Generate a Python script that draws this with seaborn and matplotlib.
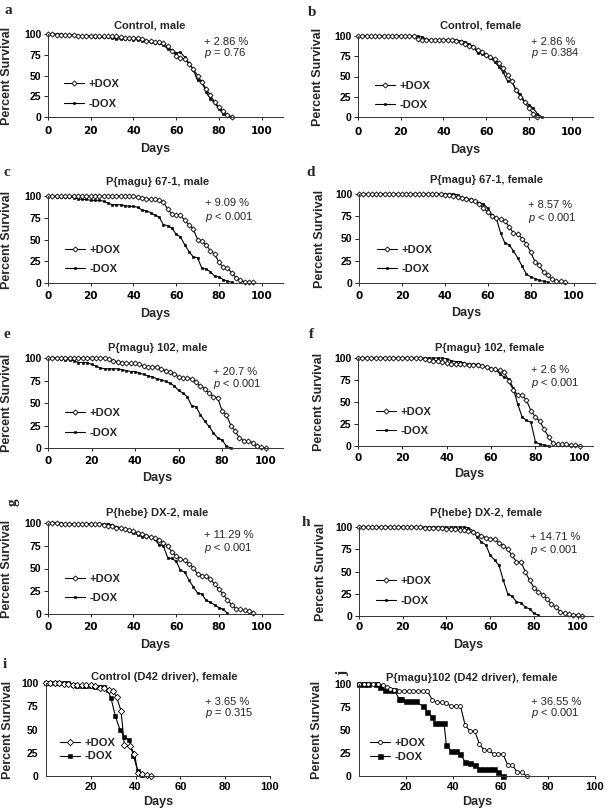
import matplotlib
matplotlib.use("Agg")
import matplotlib.pyplot as plt
import seaborn as sns

# ---------------- data (days, percent survival) ----------------
A_DAYS = [0, 2, 4, 6, 8, 10, 12, 14, 16, 18, 20, 22, 24, 26, 28, 30, 32, 34, 36, 38, 40, 42,
          44, 46, 48, 50, 52, 54, 56, 58, 60, 62, 64, 66, 68, 70, 72, 74, 76, 78, 80, 82, 84, 86]
A_PLUS = [100, 100, 99, 99, 99, 99, 99, 98, 98, 98, 98, 98, 97, 97, 97, 97, 97, 96, 95, 95, 95, 95,
          94, 92, 91, 90, 90, 89, 85, 80, 74, 71, 70, 64, 58, 50, 42, 34, 26, 18, 12, 7, 3, 0]
A_MINUS = [100, 100, 100, 100, 99, 99, 99, 98, 98, 98, 97, 96, 96, 96, 96, 95, 94, 94, 94, 94, 93, 93,
           92, 91, 90, 89, 89, 87, 82, 81, 77, 78, 72, 65, 57, 44, 43, 30, 22, 17, 10, 4, 1, 0]

B_PLUS_DAYS = [0, 2, 4, 6, 8, 10, 12, 14, 16, 18, 20, 22, 24, 26, 28, 30, 32, 34, 36, 38, 40, 42,
               44, 46, 48, 50, 52, 54, 56, 58, 60, 62, 64, 66, 68, 70, 72, 74, 76, 78, 80, 82, 84]
B_PLUS = [100, 100, 100, 100, 100, 100, 100, 100, 100, 100, 100, 100, 100, 100, 96, 95, 95, 95, 95, 95, 95, 95,
          95, 94, 92, 90, 88, 86, 83, 80, 77, 74, 71, 67, 60, 52, 44, 33, 25, 18, 11, 4, 0]
B_MINUS_DAYS = [0, 2, 4, 6, 8, 10, 12, 14, 16, 18, 20, 22, 24, 26, 28, 30, 32, 34, 36, 38, 40, 42,
                44, 46, 48, 50, 52, 54, 56, 58, 60, 62, 64, 66, 68, 70, 72, 74, 76, 78, 80, 82, 84, 86]
B_MINUS = [100, 100, 100, 100, 100, 100, 100, 100, 100, 100, 100, 100, 100, 100, 100, 99, 96, 95, 95, 95, 95, 95,
           95, 95, 94, 93, 90, 87, 79, 78, 76, 73, 68, 62, 55, 44, 44, 33, 28, 19, 15, 11, 4, 0]

C_PLUS_DAYS = [0, 2, 4, 6, 8, 10, 12, 14, 16, 18, 20, 22, 24, 26, 28, 30, 32, 34, 36, 38, 40, 42, 44, 46,
               48, 50, 52, 54, 56, 58, 60, 62, 64, 66, 68, 70, 72, 74, 76, 78, 80, 82, 84, 86, 88, 90, 92, 94, 96]
C_PLUS = [100, 100, 100, 100, 100, 100, 100, 100, 100, 100, 100, 100, 100, 100, 100, 100, 100, 100, 100, 100, 100, 99, 98, 97,
          96, 96, 95, 93, 85, 79, 78, 78, 72, 67, 62, 50, 48, 44, 37, 33, 24, 18, 17, 12, 6, 3, 1, 1, 1]
C_MINUS_DAYS = [0, 2, 4, 6, 8, 10, 12, 14, 16, 18, 20, 22, 24, 26, 28, 30, 32, 34, 36, 38, 40, 42,
                44, 46, 48, 50, 52, 54, 56, 58, 60, 62, 64, 66, 68, 70, 72, 74, 76, 78, 80, 82, 84, 86]
C_MINUS = [100, 100, 99, 99, 99, 99, 98, 97, 96, 96, 95, 95, 95, 94, 92, 90, 90, 90, 89, 88, 88, 87,
           84, 83, 81, 78, 76, 67, 66, 63, 56, 53, 44, 36, 30, 29, 17, 16, 13, 8, 7, 4, 2, 1]

D_PLUS_DAYS = [0, 2, 4, 6, 8, 10, 12, 14, 16, 18, 20, 22, 24, 26, 28, 30, 32, 34, 36, 38, 40, 42, 44, 46,
               48, 50, 52, 54, 56, 58, 60, 62, 64, 66, 68, 70, 72, 74, 76, 78, 80, 82, 84, 86, 88, 90, 92, 94, 96]
D_PLUS = [100, 100, 100, 100, 100, 100, 100, 100, 100, 100, 100, 100, 100, 100, 100, 100, 100, 100, 100, 100, 99, 99, 98, 97,
          96, 94, 93, 92, 89, 84, 80, 75, 73, 72, 70, 63, 56, 55, 50, 44, 35, 24, 20, 12, 9, 4, 2, 2, 1]
D_MINUS_DAYS = [0, 2, 4, 6, 8, 10, 12, 14, 16, 18, 20, 22, 24, 26, 28, 30, 32, 34, 36, 38, 40, 42,
                44, 46, 48, 50, 52, 54, 56, 58, 60, 62, 64, 66, 68, 70, 72, 74, 76, 78, 80, 82, 84, 86, 88]
D_MINUS = [100, 100, 100, 100, 100, 100, 100, 100, 100, 100, 100, 100, 100, 100, 100, 100, 100, 100, 100, 100, 100, 100,
           100, 99, 96, 95, 94, 92, 90, 89, 84, 76, 73, 56, 45, 43, 36, 28, 19, 10, 7, 5, 3, 2, 1]

E_PLUS_DAYS = [0, 2, 4, 6, 8, 10, 12, 14, 16, 18, 20, 22, 24, 26, 28, 30, 32, 34, 36, 38, 40, 42, 44, 46, 48,
               50, 52, 54, 56, 58, 60, 62, 64, 66, 68, 70, 72, 74, 76, 78, 80, 82, 84, 86, 88, 90, 92, 94, 96, 98, 100]
E_PLUS = [100, 100, 100, 100, 100, 100, 100, 100, 100, 100, 100, 100, 100, 100, 99, 97, 96, 95, 94, 94, 94, 93, 91, 90, 90,
          90, 88, 86, 84, 82, 79, 78, 78, 77, 73, 69, 66, 61, 57, 56, 41, 37, 25, 19, 11, 8, 8, 6, 2, 1, 0]
E_MINUS_DAYS = [0, 2, 4, 6, 8, 10, 12, 14, 16, 18, 20, 22, 24, 26, 28, 30, 32, 34, 36, 38, 40, 42,
                44, 46, 48, 50, 52, 54, 56, 58, 60, 62, 64, 66, 68, 70, 72, 74, 76, 78, 80, 82, 84]
E_MINUS = [100, 100, 100, 99, 98, 98, 97, 95, 95, 95, 93, 91, 89, 88, 88, 88, 88, 87, 86, 85, 85, 83,
           82, 80, 79, 77, 76, 74, 72, 69, 64, 61, 57, 47, 46, 37, 30, 24, 17, 11, 9, 2, 0]

F_PLUS_DAYS = [0, 2, 4, 6, 8, 10, 12, 14, 16, 18, 20, 22, 24, 26, 28, 30, 32, 34, 36, 38, 40, 42, 44, 46, 48,
               50, 52, 54, 56, 58, 60, 62, 64, 66, 68, 70, 72, 74, 76, 78, 80, 82, 84, 86, 88, 90, 92, 94, 96, 98, 100]
F_PLUS = [100, 100, 100, 100, 100, 100, 100, 100, 100, 100, 100, 100, 100, 100, 100, 99, 98, 97, 97, 96, 94, 93, 93, 93, 93,
          92, 92, 92, 91, 90, 88, 87, 86, 84, 74, 64, 58, 58, 52, 40, 33, 28, 19, 10, 3, 2, 2, 2, 1, 1, 0]
F_MINUS_DAYS = [0, 2, 4, 6, 8, 10, 12, 14, 16, 18, 20, 22, 24, 26, 28, 30, 32, 34, 36, 38, 40, 42,
                44, 46, 48, 50, 52, 54, 56, 58, 60, 62, 64, 66, 68, 70, 72, 74, 76, 78, 80, 82, 84, 86]
F_MINUS = [100, 100, 100, 100, 100, 100, 100, 100, 100, 100, 100, 100, 100, 100, 100, 100, 100, 100, 100, 100, 99, 97,
           96, 96, 94, 93, 93, 93, 91, 90, 88, 87, 82, 78, 76, 66, 48, 33, 29, 27, 5, 2, 1, 0]

G_PLUS_DAYS = [0, 2, 4, 6, 8, 10, 12, 14, 16, 18, 20, 22, 24, 26, 28, 30, 32, 34, 36, 38, 40, 42, 44, 46,
               48, 50, 52, 54, 56, 58, 60, 62, 64, 66, 68, 70, 72, 74, 76, 78, 80, 82, 84, 86, 88, 90, 92, 94, 96]
G_PLUS = [100, 100, 100, 99, 99, 99, 99, 99, 99, 99, 99, 99, 99, 98, 97, 97, 95, 94, 93, 92, 91, 89, 88, 86,
          85, 83, 81, 78, 75, 68, 64, 60, 59, 55, 51, 44, 42, 42, 38, 33, 27, 22, 15, 10, 6, 5, 4, 3, 1]
G_MINUS_DAYS = [0, 2, 4, 6, 8, 10, 12, 14, 16, 18, 20, 22, 24, 26, 28, 30, 32, 34, 36, 38, 40, 42,
                44, 46, 48, 50, 52, 54, 56, 58, 60, 62, 64, 66, 68, 70, 72, 74, 76, 78, 80, 82, 84]
G_MINUS = [100, 100, 100, 100, 99, 99, 99, 99, 99, 99, 99, 99, 99, 99, 99, 98, 96, 95, 93, 91, 89, 87,
           85, 85, 85, 82, 76, 75, 62, 61, 58, 48, 46, 37, 30, 23, 22, 15, 13, 10, 7, 5, 1]

H_PLUS_DAYS = [0, 2, 4, 6, 8, 10, 12, 14, 16, 18, 20, 22, 24, 26, 28, 30, 32, 34, 36, 38, 40, 42, 44, 46, 48, 50,
               52, 54, 56, 58, 60, 62, 64, 66, 68, 70, 72, 74, 76, 78, 80, 82, 84, 86, 88, 90, 92, 94, 96, 98, 100, 102]
H_PLUS = [100, 100, 100, 100, 100, 100, 100, 100, 100, 100, 100, 100, 100, 100, 100, 99, 99, 99, 99, 99, 98, 98, 98, 97, 97, 96,
          94, 92, 90, 88, 87, 86, 82, 79, 75, 68, 61, 61, 50, 40, 32, 27, 24, 19, 13, 10, 5, 3, 2, 1, 1, 0]
H_MINUS_DAYS = [0, 2, 4, 6, 8, 10, 12, 14, 16, 18, 20, 22, 24, 26, 28, 30, 32, 34, 36, 38, 40,
                42, 44, 46, 48, 50, 52, 54, 56, 58, 60, 62, 64, 66, 68, 70, 72, 74, 76, 78, 80, 82]
H_MINUS = [100, 100, 100, 100, 100, 100, 100, 100, 100, 100, 100, 100, 100, 100, 100, 100, 100, 100, 100, 100, 100,
           100, 100, 100, 100, 99, 96, 89, 83, 80, 68, 63, 57, 40, 25, 22, 16, 15, 10, 8, 3, 1]

I_PLUS_DAYS = [0, 2, 4, 6, 8, 10, 12, 14, 16, 18, 20, 22, 24, 26, 28, 30, 31.5, 33.5, 35, 37.5, 39.5, 41, 43, 45, 47]
I_PLUS = [100, 100, 100, 100, 99, 99, 98, 98, 98, 98, 98, 97, 95, 95, 93, 91, 85, 70, 33, 32, 24, 3, 2, 1, 0]
I_MINUS_DAYS = [0, 2, 4, 6, 8, 10, 12, 14, 16, 18, 20, 22, 24, 26, 27.5, 29, 31, 33, 35, 37, 39, 41, 43]
I_MINUS = [100, 100, 100, 100, 100, 100, 98, 97, 97, 97, 97, 96, 96, 96, 93, 84, 64, 50, 42, 39, 22, 5, 1]

J_PLUS_DAYS = [0, 2, 4, 6, 8, 10, 12, 13, 15, 17, 19, 21, 23, 25, 27, 29, 31, 33, 35, 37, 39, 41, 43, 45,
               47, 49, 51, 53, 55, 57, 59, 61, 63, 65, 67, 69, 71]
J_PLUS = [100, 100, 100, 100, 100, 99, 97, 95, 94, 92, 92, 92, 92, 92, 92, 92, 83, 80, 80, 79, 76, 76, 76, 55,
          49, 49, 35, 28, 28, 24, 24, 24, 12, 12, 4, 4, 0]
J_MINUS_DAYS = [0, 2, 4, 7, 9, 11, 13, 15, 17, 18, 20, 22, 24, 27, 29, 31, 32, 34, 36, 37, 39, 41, 43, 45,
                47, 49, 51, 53, 55, 57, 59, 61]
J_MINUS = [100, 100, 100, 100, 97, 93, 93, 93, 84, 84, 81, 81, 81, 76, 70, 64, 58, 58, 58, 34, 27, 27, 24, 15,
           14, 12, 8, 8, 8, 8, 4, 0]

LETTERS = ["a", "b", "c", "d", "e", "f", "g", "h", "i", "j"]
TITLES = ["Control, male", "Control, female", "P{magu} 67-1, male", "P{magu} 67-1, female",
          "P{magu} 102, male", "P{magu} 102, female", "P{hebe} DX-2, male", "P{hebe} DX-2, female",
          "Control (D42 driver), female", "P{magu}102 (D42 driver), female"]
CHANGES = ["+ 2.86 %", "+ 2.86 %", "+ 9.09 %", "+ 8.57 %", "+ 20.7 %",
           "+ 2.6 %", "+ 11.29 %", "+ 14.71 %", "+ 3.65 %", "+ 36.55 %"]
P_TEXT = ["= 0.76", "= 0.384", "< 0.001", "< 0.001", "< 0.001",
          "< 0.001", "< 0.001", "< 0.001", "= 0.315", "< 0.001"]
SERIES = [
    (A_DAYS, A_PLUS, A_DAYS, A_MINUS),
    (B_PLUS_DAYS, B_PLUS, B_MINUS_DAYS, B_MINUS),
    (C_PLUS_DAYS, C_PLUS, C_MINUS_DAYS, C_MINUS),
    (D_PLUS_DAYS, D_PLUS, D_MINUS_DAYS, D_MINUS),
    (E_PLUS_DAYS, E_PLUS, E_MINUS_DAYS, E_MINUS),
    (F_PLUS_DAYS, F_PLUS, F_MINUS_DAYS, F_MINUS),
    (G_PLUS_DAYS, G_PLUS, G_MINUS_DAYS, G_MINUS),
    (H_PLUS_DAYS, H_PLUS, H_MINUS_DAYS, H_MINUS),
    (I_PLUS_DAYS, I_PLUS, I_MINUS_DAYS, I_MINUS),
    (J_PLUS_DAYS, J_PLUS, J_MINUS_DAYS, J_MINUS),
]

# ---------------- layout (pixels in the 605 x 808 canvas) ----------------
W, H = 605, 808
# left, right, y of 0 %, y of 100 %
AXES_PX = [(48, 283, 117, 34), (358, 593, 117, 36), (48, 283, 283, 196), (359, 595, 283, 194),
           (48, 283, 448, 358), (358, 593, 446, 358), (48, 283, 614, 523), (359, 593, 616, 527),
           (46, 270, 776, 683), (359, 595, 776, 684)]
XMAX = [110, 110, 110, 110, 108, 106, 110, 107, 100, 100]
XT_PAD = [3.9, 4.5, 3.2, 3.2, 3.2, 2.5, 3.2, 1.5, 1.5, 1.5]
TITLE_PX = [(150, 25), (481, 25), (158, 182), (487, 180), (158, 348), (490, 348),
            (157, 513), (486, 513), (164, 677), (472, 678)]
LETTER_PX = [(8, 10, 0), (312, 12, 0), (7, 173, 0), (311, 172, 0), (7, 335, 0), (311, 335, 0),
             (13, 502, 90), (306, 522, 0), (5, 665, 0), (343, 673, 90)]
NOTE_PX = [(204, 42, 53), (531, 42, 53), (205, 203, 217), (528, 205, 218), (213, 372, 384),
           (531, 370, 383), (204, 535, 548), (530, 537, 550), (205, 702, 713), (531, 702, 713)]
LEGEND_PX = [(64, 83, 105), (375, 85, 106), (65, 249, 270), (377, 249, 270), (65, 412, 434),
             (376, 411, 432), (65, 578, 599), (376, 580, 602), (60, 742, 757), (370, 743, 757)]
YLAB_X = [7, 318, 7, 320, 7, 319, 7, 321, 8, 317]
XLAB_Y = [149, 150, 314, 313, 478, 474, 645, 645, 802, 802]

sns.set_style("ticks")
plt.rcParams["font.family"] = ["Liberation Sans", "DejaVu Sans"]
plt.rcParams["mathtext.fontset"] = "custom"
plt.rcParams["mathtext.it"] = "Liberation Sans:italic"
plt.rcParams["mathtext.rm"] = "Liberation Sans"

fig = plt.figure(figsize=(W / 100, H / 100), dpi=100)


def fx(x):
    return x / W


def fy(y):
    return 1 - y / H


for k, letter in enumerate(LETTERS):
    l, r, y0, y100 = AXES_PX[k]
    ax = fig.add_axes([fx(l), fy(y0), (r - l) / W, (y0 - y100) / H])
    plus_days, plus, minus_days, minus = SERIES[k]

    if k < 8:
        plus_marker, plus_ms, minus_ms = "D", 2.6, 2.0
    elif k == 8:
        plus_marker, plus_ms, minus_ms = "D", 3.2, 3.2
    else:
        plus_marker, plus_ms, minus_ms = "o", 2.8, 3.6

    sns.lineplot(x=minus_days, y=minus, ax=ax, color="black", linewidth=0.8,
                 marker="s", markersize=minus_ms, markerfacecolor="black",
                 markeredgecolor="black", markeredgewidth=0.4,
                 estimator=None, clip_on=False, label="-DOX")
    sns.lineplot(x=plus_days, y=plus, ax=ax, color="black", linewidth=0.8,
                 marker=plus_marker, markersize=plus_ms, markerfacecolor="white",
                 markeredgecolor="black", markeredgewidth=0.6,
                 estimator=None, clip_on=False, label="+DOX")

    ax.set_xlim(0, XMAX[k])
    ax.set_ylim(0, 100)
    ax.set_yticks([0, 25, 50, 75, 100])
    if k < 8:
        ax.set_xticks([0, 20, 40, 60, 80, 100])
        ax.tick_params(axis="y", length=3.2, width=0.6, pad=1.5)
        xfont = ["DejaVu Sans"]
        xsize = 7.5
    else:
        ax.set_xticks([20, 40, 60, 80, 100])
        ax.tick_params(axis="y", length=0, pad=5.5)
        xfont = ["Liberation Sans", "DejaVu Sans"]
        xsize = 8
    ax.tick_params(axis="y", labelsize=7.5, colors="black")
    ax.tick_params(axis="x", length=2.5, width=0.6, pad=XT_PAD[k], labelsize=xsize, colors="black")
    for lab in ax.get_yticklabels():
        lab.set_fontweight("bold")
    for lab in ax.get_xticklabels():
        lab.set_fontweight("bold")
        lab.set_family(xfont)

    sns.despine(ax=ax)
    for side in ["left", "bottom"]:
        ax.spines[side].set_linewidth(0.7)
        ax.spines[side].set_color("#333333")

    ax.set_ylabel("Percent Survival", fontsize=9, fontweight="bold")
    ax.yaxis.label.set_va("center")
    ax.yaxis.set_label_coords((YLAB_X[k] - l) / (r - l), 0.5)
    ax.set_xlabel("Days", fontsize=9, fontweight="bold")
    ax.xaxis.label.set_va("center")
    ax.xaxis.set_label_coords(50 / XMAX[k], -(XLAB_Y[k] - y0) / (y0 - y100))

    handles, labels = ax.get_legend_handles_labels()
    order = [labels.index("+DOX"), labels.index("-DOX")]
    lx, ly1, ly2 = LEGEND_PX[k]
    ax.legend([handles[i] for i in order], [labels[i] for i in order],
              loc="center left", bbox_to_anchor=(fx(lx), fy((ly1 + ly2) / 2)),
              bbox_transform=fig.transFigure, frameon=False,
              prop={"weight": "bold", "size": 8}, handlelength=1.8,
              handletextpad=0.4, labelspacing=0.85 if k < 8 else 0.35,
              borderpad=0, borderaxespad=0)

    tx, ty = TITLE_PX[k]
    fig.text(fx(tx), fy(ty), TITLES[k], ha="center", va="center",
             fontsize=8, fontweight="bold")

    px, py, rot = LETTER_PX[k]
    fig.text(fx(px), fy(py), letter, ha="center", va="center", rotation=rot,
             fontsize=11, fontweight="bold", family=["Liberation Serif", "DejaVu Serif"])

    nx, ny1, ny2 = NOTE_PX[k]
    fig.text(fx(nx), fy(ny1), CHANGES[k], ha="left", va="center", fontsize=8)
    fig.text(fx(nx), fy(ny2), "$p$ " + P_TEXT[k], ha="left", va="center", fontsize=8)

fig.savefig("out.png", dpi=100)
plt.close(fig)
